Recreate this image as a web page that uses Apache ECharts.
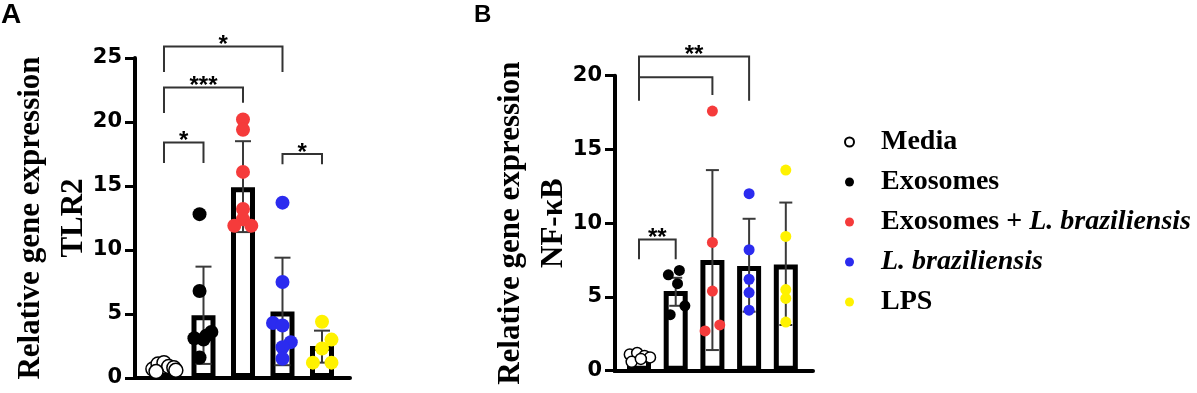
<!DOCTYPE html>
<html>
<head>
<meta charset="utf-8">
<script src="https://cdn.jsdelivr.net/npm/echarts@6/dist/echarts.min.js"></script>
<style>
    html, body {margin: 0; padding: 0; background: #fff;}
    #chart {width: 1197px; height: 393px;}
</style>
</head>
<body>
<div id="chart"></div>
<script>
var groups = ["Media", "Exosomes", "Exosomes + L. braziliensis", "L. braziliensis", "LPS"];
var groupColors = ["#ffffff", "#000000", "#f53b3b", "#2b2bef", "#fff200"];

// panel A, TLR2
var meansA = [0.85, 4.9, 14.9, 5.2, 2.5];
var errA = [[0.6, 1.1], [1.1, 8.7], [11.4, 18.5], [1.0, 9.4], [1.2, 3.7]];
// each point: [jitter, value]
var pointsA = [
    [[-0.28, 0.7], [-0.15, 1.1], [0.0, 1.2], [0.12, 0.9], [0.25, 0.8], [0.3, 0.6], [-0.2, 0.5]],
    [[-0.1, 12.8], [-0.1, 6.8], [0.2, 3.6], [0.07, 3.3], [-0.23, 3.1], [0.0, 3.0], [-0.1, 1.6]],
    [[0, 20.2], [0, 19.4], [0, 16.1], [0, 13.2], [0, 12.4], [-0.22, 11.9], [0.21, 11.9]],
    [[0, 13.7], [0, 7.5], [-0.24, 4.3], [0, 4.1], [0.21, 2.8], [0, 2.4], [0, 1.5]],
    [[0, 4.4], [0.24, 3.0], [0, 2.3], [-0.23, 1.2], [0.24, 1.2]]
];
// [from, to, top, left drop, right drop]
var bracketsA = [[0, 1, 18.4, 16.8, 16.8], [0, 2, 22.7, 20.7, 21.5], [0, 3, 25.9, 23.9, 23.9], [3, 4, 17.5, 16.7, 16.7]];
var starsA = ["*", "***", "*", "*"];
var xRangeA = [-0.734, 4.709];
var yMaxA = 25;

// panel B, NF-kB
var meansB = [0.9, 5.4, 7.5, 7.1, 7.2];
var errB = [[0.7, 1.1], [4.4, 6.3], [1.4, 13.6], [4.0, 10.3], [3.1, 11.4]];
var pointsB = [
    [[-0.25, 1.1], [-0.05, 1.2], [0.15, 1.0], [0.3, 0.9], [-0.2, 0.6], [0.05, 0.8]],
    [[0.1, 6.8], [-0.2, 6.5], [0.05, 5.9], [0.25, 4.4], [-0.15, 3.8]],
    [[0, 17.6], [0, 8.7], [0, 5.4], [0.2, 3.1], [-0.2, 2.7]],
    [[0, 12.0], [0, 8.2], [0, 6.2], [0, 5.3], [0, 4.1]],
    [[0, 13.6], [0, 9.1], [0, 5.5], [0, 4.9], [0, 3.3]]
];
var bracketsB = [[0, 1, 8.9, 7.55, 7.55], [0, 3, 21.3, 18.3, 18.3], [0, 2, 19.9, 19.9, 18.7]];
var starsB = ["**", "**", ""];
var xRangeB = [-0.654, 4.741];
var yMaxB = 20;

var serifBold = "Liberation Serif";

function panelSeries(idx, means, errs, pts, brackets, stars, dotSize, capHalf) {
    var list = [];
    list.push({
        type: "bar",
        xAxisIndex: idx, yAxisIndex: idx,
        barWidth: 24,
        silent: true,
        z: 2,
        itemStyle: {color: "#fff", borderColor: "#000", borderWidth: 5},
        data: means.map(function (m, i) { return [i, m]; })
    });
    list.push({
        type: "custom",
        xAxisIndex: idx, yAxisIndex: idx,
        silent: true,
        z: 3,
        encode: {x: 0, y: [1, 2]},
        data: errs.map(function (e, i) { return [i, e[0], e[1]]; }),
        renderItem: function (params, api) {
            var lo = api.coord([api.value(0), api.value(1)]);
            var hi = api.coord([api.value(0), api.value(2)]);
            var st = {stroke: "#3a3a3a", lineWidth: 2};
            return {
                type: "group",
                children: [
                    {type: "line", shape: {x1: hi[0], y1: hi[1], x2: lo[0], y2: lo[1]}, style: st},
                    {type: "line", shape: {x1: hi[0] - capHalf, y1: hi[1], x2: hi[0] + capHalf, y2: hi[1]}, style: st},
                    {type: "line", shape: {x1: lo[0] - capHalf, y1: lo[1], x2: lo[0] + capHalf, y2: lo[1]}, style: st}
                ]
            };
        }
    });
    for (var g = 0; g < groups.length; g++) {
        list.push({
            type: "scatter",
            name: groups[g],
            xAxisIndex: idx, yAxisIndex: idx,
            symbol: "circle",
            symbolSize: dotSize,
            z: 4,
            itemStyle: {
                color: groupColors[g],
                borderColor: g === 0 ? "#000" : groupColors[g],
                borderWidth: g === 0 ? 1.5 : 0,
                opacity: 1
            },
            data: pts[g].map(function (p) { return [g + p[0], p[1]]; })
        });
    }
    list.push({
        type: "custom",
        xAxisIndex: idx, yAxisIndex: idx,
        silent: true,
        clip: false,
        z: 5,
        encode: {x: [0, 1], y: 2},
        data: brackets,
        renderItem: function (params, api) {
            var x1 = api.value(0), x2 = api.value(1);
            var a = api.coord([x1, api.value(3)]);
            var b = api.coord([x1, api.value(2)]);
            var c = api.coord([x2, api.value(2)]);
            var d = api.coord([x2, api.value(4)]);
            return {
                type: "group",
                children: [
                    {type: "polyline", shape: {points: [a, b, c, d]}, style: {stroke: "#333", lineWidth: 2, fill: null}},
                    {
                        type: "text", x: (b[0] + c[0]) / 2, y: b[1] - 1,
                        style: {
                            text: stars[params.dataIndex],
                            font: 'bold 24px "Liberation Sans"',
                            fill: "#000",
                            textAlign: "center",
                            textVerticalAlign: "middle"
                        }
                    }
                ]
            };
        }
    });
    return list;
}

function yAxisOf(idx, max, title) {
    return {
        gridIndex: idx,
        type: "value",
        position: "left",
        min: 0, max: max, interval: 5,
        name: title,
        nameLocation: "middle",
        nameRotate: 90,
        nameGap: 40,
        nameMoveOverlap: false,
        nameTextStyle: {fontFamily: serifBold, fontWeight: "bold", fontSize: 31, lineHeight: 43, color: "#000"},
        axisLine: {show: true, onZero: false, lineStyle: {color: "#000", width: 4}},
        axisTick: {show: true, length: 10, lineStyle: {color: "#000", width: 3}},
        axisLabel: {margin: 13, fontFamily: "DejaVu Sans", fontWeight: "bold", fontSize: 21, color: "#000"},
        splitLine: {show: false}
    };
}

function xAxisOf(idx, range) {
    return {
        gridIndex: idx,
        type: "value",
        position: "bottom",
        min: range[0], max: range[1],
        axisLine: {show: true, onZero: false, lineStyle: {color: "#000", width: 4}},
        axisTick: {show: false},
        axisLabel: {show: false},
        splitLine: {show: false}
    };
}

var myChart = echarts.init(document.getElementById("chart"), null, {renderer: "canvas"});
var option = {
    animation: false,
    backgroundColor: "#fff",
    grid: [
        {left: 135, top: 58, width: 215, height: 320, outerBoundsMode: "none"},
        {left: 615, top: 75.7, width: 198, height: 295, outerBoundsMode: "none"}
    ],
    xAxis: [xAxisOf(0, xRangeA), xAxisOf(1, xRangeB)],
    yAxis: [yAxisOf(0, yMaxA, "Relative gene expression\nTLR2"), yAxisOf(1, yMaxB, "Relative gene expression\nNF-\u03baB")],
    legend: {
        orient: "vertical",
        left: 839,
        top: 122,
        itemWidth: 9,
        itemHeight: 9,
        itemGap: 10,
        icon: "circle",
        selectedMode: false,
        data: groups,
        formatter: function (name) {
            if (name === "Exosomes + L. braziliensis") {
                return "Exosomes + {i|L. braziliensis}";
            }
            if (name === "L. braziliensis") {
                return "{i|L. braziliensis}";
            }
            return name;
        },
        textStyle: {
            fontFamily: serifBold, fontWeight: "bold", fontSize: 28, lineHeight: 30, color: "#000",
            padding: [0, 0, 0, 22],
            rich: {
                i: {fontFamily: serifBold, fontWeight: "bold", fontStyle: "italic", fontSize: 28, lineHeight: 30, color: "#000"}
            }
        }
    },
    graphic: [
        {type: "text", left: 1, top: 1, style: {text: "A", font: 'bold 28px "Liberation Sans"', fill: "#000"}},
        {type: "text", left: 474, top: 3, style: {text: "B", font: 'bold 24px "Liberation Sans"', fill: "#000"}}
    ],
    series: panelSeries(0, meansA, errA, pointsA, bracketsA, starsA, 14, 8)
        .concat(panelSeries(1, meansB, errB, pointsB, bracketsB, starsB, 11, 6.5))
};
myChart.setOption(option);

// the y axis line does not come out in this setup, so put it back from the chart's own scales
var axisLines = [[0, xRangeA[0], yMaxA], [1, xRangeB[0], yMaxB]].map(function (a) {
    var p0 = myChart.convertToPixel({gridIndex: a[0]}, [a[1], 0]);
    var p1 = myChart.convertToPixel({gridIndex: a[0]}, [a[1], a[2]]);
    return {
        type: "line",
        z: 100,
        silent: true,
        shape: {x1: p0[0], y1: p0[1] + 2, x2: p1[0], y2: p1[1]},
        style: {stroke: "#000", lineWidth: 4}
    };
});
myChart.setOption({graphic: option.graphic.concat(axisLines)});
</script>
</body>
</html>
